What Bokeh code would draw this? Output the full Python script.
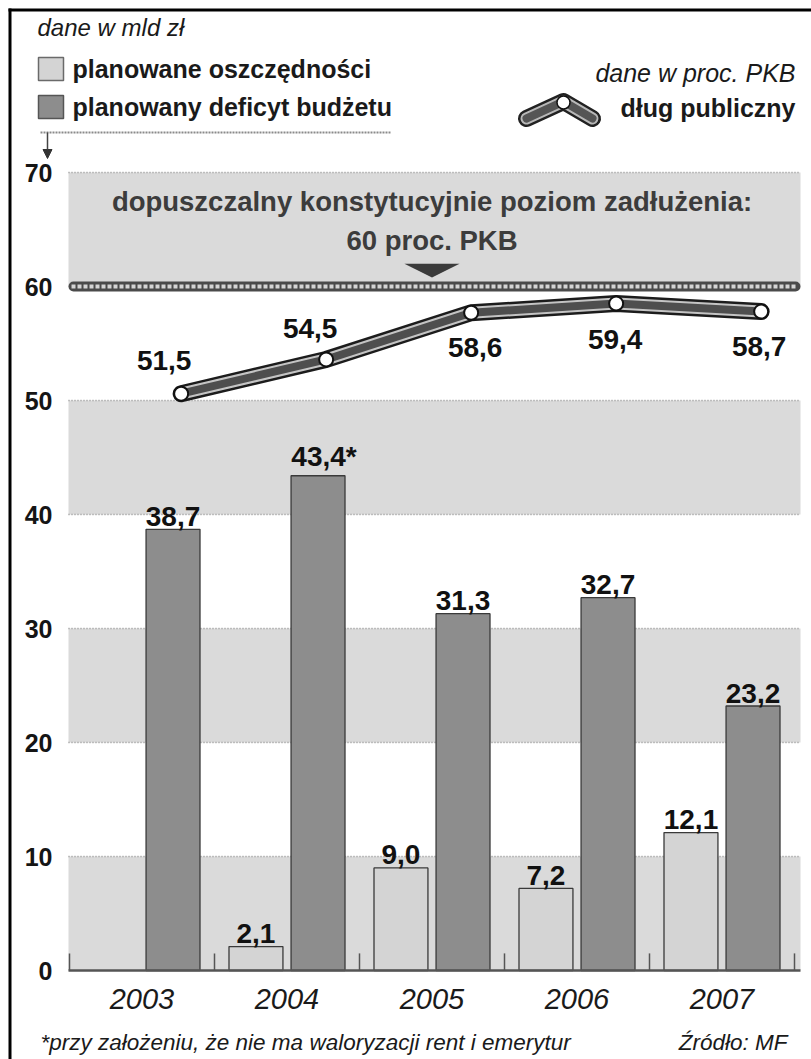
import math
from bokeh.plotting import figure
from bokeh.models import (Range1d, FixedTicker, Label, Arrow, NormalHead, ColumnDataSource)
from bokeh.core.properties import value
from bokeh.embed import file_html
from bokeh.resources import INLINE

# ---------------- data ----------------
years = ["2003", "2004", "2005", "2006", "2007"]
savings = [float("nan"), 2.1, 9.0, 7.2, 12.1]          # planowane oszczędności (mld zł)
savings_labels = ["", "2,1", "9,0", "7,2", "12,1"]
deficit = [38.7, 43.4, 31.3, 32.7, 23.2]               # planowany deficyt budżetu (mld zł)
deficit_labels = ["38,7", "43,4*", "31,3", "32,7", "23,2"]
debt = [51.5, 54.5, 58.6, 59.4, 58.7]                  # dług publiczny (% PKB)
debt_labels = ["51,5", "54,5", "58,6", "59,4", "58,7"]
y_ticks = [0, 10, 20, 30, 40, 50, 60, 70]
grid_values = [10, 20, 30, 40, 50, 70]
band_starts = [0, 20, 40, 60]
limit_value = 60

# ---------------- layout helpers (page pixels -> data) ----------------
FONT = "Liberation Sans"
W, H = 811, 1059
UNIT = 145.0          # px per year group
C0 = 141.5            # page x of first group centre
PXY = 11.4            # px per y unit
Y0 = 970.0            # page y of value 0
PLOT_L, PLOT_R = 68, 800

def DX(px):
    return (px - C0) / UNIT

def DY(py):
    return (Y0 - py) / PXY

idx = list(range(len(years)))
BAR_W = 0.372
OFF = 0.214
LINE_OFF = 0.27
PKB_SHIFT = 0.9
LABEL_GAP = 0.3       # gap between bar top and its label, in value units

p = figure(width=W, height=H, output_backend="svg", toolbar_location=None,
           x_range=Range1d(DX(0), DX(W)), y_range=Range1d(DY(H), DY(0)),
           min_border=0, background_fill_color="white", border_fill_color="white")
p.title.visible = False
p.outline_line_color = None
p.extra_y_ranges = {"pkb": Range1d(DY(H) + PKB_SHIFT, DY(0) + PKB_SHIFT)}
p.xgrid.visible = False
p.ygrid.visible = False

# axes (drawn inside the canvas at fixed locations)
p.xaxis.fixed_location = 0
p.xaxis.ticker = FixedTicker(ticks=idx)
p.xaxis.major_label_overrides = {i: y for i, y in zip(idx, years)}
p.xaxis.major_label_text_font = FONT
p.xaxis.major_label_text_font_style = "italic"
p.xaxis.major_label_text_font_size = "29px"
p.xaxis.major_label_text_color = "#1a1a1a"
p.xaxis.major_label_standoff = 12
p.yaxis.fixed_location = DX(PLOT_L)
p.yaxis.ticker = FixedTicker(ticks=y_ticks)
p.yaxis.major_label_text_font = FONT
p.yaxis.major_label_text_font_style = "bold"
p.yaxis.major_label_text_font_size = "25px"
p.yaxis.major_label_text_color = "#151515"
p.yaxis.major_label_standoff = 10
for ax in (p.xaxis, p.yaxis):
    ax.axis_line_color = None
    ax.major_tick_line_color = None
    ax.minor_tick_line_color = None

XL, XR = DX(PLOT_L), DX(PLOT_R)

# alternating bands and dotted grid
p.quad(left=XL, right=XR, bottom=band_starts, top=[b + 10 for b in band_starts],
       fill_color="#dadada", line_color=None, level="underlay")
p.segment(x0=XL, x1=XR, y0=grid_values, y1=grid_values, line_color="#8c8c8c",
          line_width=1.5, line_dash="1 2", level="underlay")

# bars
src_s = ColumnDataSource(dict(x=[i - OFF for i in idx], top=savings, label=savings_labels,
                              ly=[v + LABEL_GAP for v in savings], xoff=[0] * len(idx)))
src_d = ColumnDataSource(dict(x=[i + OFF for i in idx], top=deficit, label=deficit_labels,
                              ly=[v + LABEL_GAP for v in deficit], xoff=[0, 6, 0, 0, 0]))
p.vbar(x="x", top="top", bottom=0, width=BAR_W, source=src_s,
       fill_color="#d4d4d4", line_color="#3a3a3a", line_width=1.3)
p.vbar(x="x", top="top", bottom=0, width=BAR_W, source=src_d,
       fill_color="#8d8d8d", line_color="#3a3a3a", line_width=1.3)
for src in (src_s, src_d):
    p.text(x="x", y="ly", text="label", source=src, x_offset="xoff",
           text_align="center", text_baseline="bottom",
           text_font=value(FONT), text_font_style="bold", text_font_size="28px",
           text_color="#111111")

# baseline and group ticks
p.segment(x0=XL, x1=XR, y0=0, y1=0, line_color="#555555", line_width=2.5)
bounds = [i - 0.5 for i in idx] + [idx[-1] + 0.5]
p.segment(x0=bounds, x1=bounds, y0=0, y1=1.5, line_color="#555555", line_width=1.5)

# limit line at 60
p.segment(x0=DX(PLOT_L + 5), x1=DX(PLOT_R - 5), y0=limit_value, y1=limit_value,
          line_color="#4a4a4a", line_width=10, line_cap="round")
p.segment(x0=DX(PLOT_L + 3), x1=DX(PLOT_R - 3), y0=limit_value, y1=limit_value,
          line_color="#d4d4d4", line_width=4, line_dash="4 2")
p.patch(x=[2 - 0.19, 2 + 0.19, 2], y=[limit_value + 2.0, limit_value + 2.0, limit_value + 0.8],
        fill_color="#3b3b3b", line_color=None)
for txt, yy in [("dopuszczalny konstytucyjnie poziom zadłużenia:", 67.5),
                ("60 proc. PKB", 64.0)]:
    p.add_layout(Label(x=2, y=yy, text=txt, text_align="center", text_baseline="middle",
                       text_font=FONT, text_font_style="bold", text_font_size="27.5px",
                       text_color="#3c3c3c"))

# public debt line (tube look)
src_l = ColumnDataSource(dict(x=[i + LINE_OFF for i in idx], y=debt, label=debt_labels,
                              xo=[-17, -16, 4, -1, -2], yo=[-33, -31, 35, 36, 35]))
for lw, col in [(17, "#1c1c1c"), (12, "#c4c4c4"), (8, "#4e4e4e")]:
    p.line("x", "y", source=src_l, y_range_name="pkb", line_color=col, line_width=lw,
           line_join="round", line_cap="round")
p.scatter("x", "y", source=src_l, y_range_name="pkb", size=14, marker="circle",
          fill_color="white", line_color="#111111", line_width=2)
p.text(x="x", y="y", text="label", source=src_l, y_range_name="pkb",
       x_offset="xo", y_offset="yo", text_align="center", text_baseline="middle",
       text_font=value(FONT), text_font_style="bold", text_font_size="28px",
       text_color="#111111")

# ---------------- frame lines ----------------
p.segment(x0=DX(8), x1=DX(W), y0=DY(9.5), y1=DY(9.5), line_color="black", line_width=3)
p.segment(x0=DX(9.5), x1=DX(9.5), y0=DY(8), y1=DY(H), line_color="black", line_width=3)

# ---------------- header ----------------
def lab(px, py, txt, size, style="normal", align="left", color="#1a1a1a"):
    p.add_layout(Label(x=DX(px), y=DY(py), text=txt, text_align=align, text_baseline="middle",
                       text_font=FONT, text_font_style=style, text_font_size=size,
                       text_color=color))

lab(37, 27, "dane w mld zł", "24px", "italic")
p.quad(left=DX(38), right=DX(63), top=DY(57), bottom=DY(80),
       fill_color="#d4d4d4", line_color="#6a6a6a", line_width=1.5)
p.quad(left=DX(38), right=DX(63), top=DY(95), bottom=DY(118),
       fill_color="#8d8d8d", line_color="#555555", line_width=1.5)
lab(72, 68, "planowane oszczędności", "25px", "bold")
lab(72, 106, "planowany deficyt budżetu", "25px", "bold")
p.segment(x0=DX(40), x1=DX(390), y0=DY(132), y1=DY(132), line_color="#8a8a8a",
          line_width=2, line_dash="2 1")
p.add_layout(Arrow(end=NormalHead(size=9, fill_color="#333333", line_color="#333333"),
                   x_start=DX(47), y_start=DY(132), x_end=DX(47), y_end=DY(158),
                   line_color="#444444", line_width=1.5))

lab(795, 72, "dane w proc. PKB", "25px", "italic", align="right")
lab(795, 107, "dług publiczny", "25px", "bold", align="right")
for lw, col in [(17, "#222222"), (12, "#b8b8b8"), (8, "#555555")]:
    p.line(x=[DX(526), DX(563), DX(592)], y=[DY(118), DY(101), DY(118)],
           line_color=col, line_width=lw, line_cap="round", line_join="round")
p.scatter(x=[DX(563)], y=[DY(102)], size=13, marker="circle", fill_color="white",
          line_color="#111111", line_width=1.5)

# ---------------- footer ----------------
lab(40, 1042, "*przy założeniu, że nie ma waloryzacji rent i emerytur", "22.5px", "italic")
lab(787, 1042, "Źródło: MF", "22.5px", "italic", align="right")

open("out.html", "w").write(file_html(p, INLINE))
